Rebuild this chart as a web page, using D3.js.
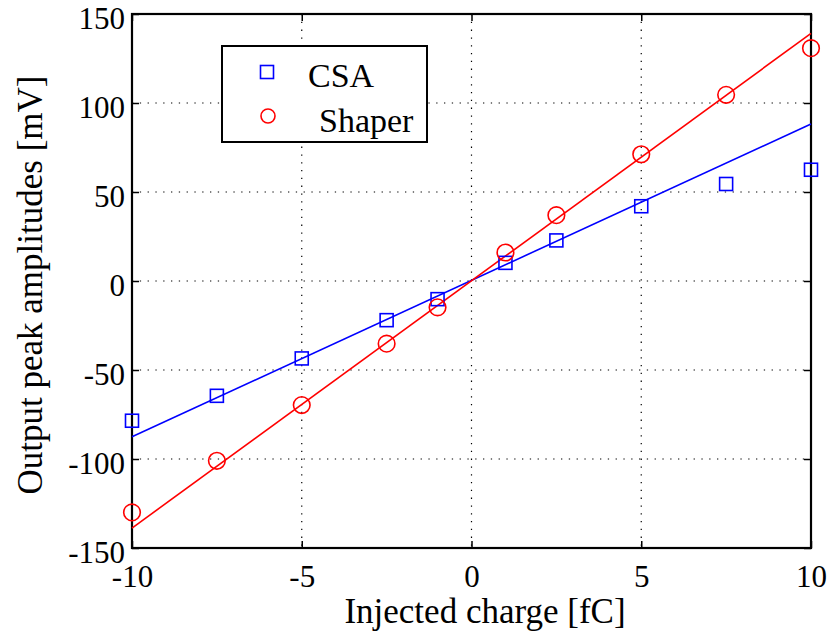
<!DOCTYPE html>
<html>
<head>
<meta charset="utf-8">
<script src="https://cdn.jsdelivr.net/npm/d3@7/dist/d3.min.js"></script>
<style>
  html, body { margin: 0; padding: 0; background: #fff; }
  svg { display: block; }
</style>
</head>
<body>
<svg id="chart" width="839" height="637"></svg>
<script>
// Injected charge (fC) and measured peak amplitudes (mV)
const charge = [-10, -7.5, -5, -2.5, -1, 1, 2.5, 5, 7.5, 10];
const csa    = [-78.5, -64.5, -43.5, -22, -10.2, 10.2, 22.8, 42, 54.5, 62.5];
const shaper = [-130, -101, -69.7, -35.2, -14.8, 16, 37, 71.2, 104.6, 130.8];

// Linear fits, evaluated at the ends of the charge range
const fitCharge = [-10, 10];
const csaFit    = [-87.5, 88.2];
const shaperFit = [-138.8, 139.1];

const xTicks = [-10, -5, 0, 5, 10];
const yTicks = [-150, -100, -50, 0, 50, 100, 150];

const FONT = "Liberation Serif";
const svg = d3.select("#chart");
const m = { left: 132, right: 811, top: 14, bottom: 548 };

const x = d3.scaleLinear().domain([-10, 10]).range([m.left, m.right]);
const y = d3.scaleLinear().domain([-150, 150]).range([m.bottom, m.top]);

function label(sel, size) {
  return sel.style("font-family", FONT).attr("font-family", FONT)
    .style("font-size", size + "px").attr("fill", "#000");
}

// dotted grid
const grid = svg.append("g").attr("stroke", "#000").attr("stroke-width", 1.2)
  .attr("stroke-dasharray", "1.3,6.5");
grid.selectAll("line.gx").data(xTicks).join("line").attr("class", "gx")
  .attr("x1", d => x(d)).attr("x2", d => x(d))
  .attr("y1", m.top).attr("y2", m.bottom);
grid.selectAll("line.gy").data(yTicks).join("line").attr("class", "gy")
  .attr("y1", d => y(d)).attr("y2", d => y(d))
  .attr("x1", m.left).attr("x2", m.right);

// axes with inward ticks on all four sides
const tickLen = 7;
const fmt = d => d < 0 ? "-" + Math.abs(d) : String(d);
const axB = svg.append("g").attr("transform", `translate(0,${m.bottom})`)
  .call(d3.axisBottom(x).tickValues(xTicks).tickSizeInner(-tickLen).tickSizeOuter(0).tickPadding(17).tickFormat(fmt));
const axT = svg.append("g").attr("transform", `translate(0,${m.top})`)
  .call(d3.axisTop(x).tickValues(xTicks).tickSizeInner(-tickLen).tickSizeOuter(0).tickFormat(""));
const axL = svg.append("g").attr("transform", `translate(${m.left},0)`)
  .call(d3.axisLeft(y).tickValues(yTicks).tickSizeInner(-tickLen).tickSizeOuter(0).tickPadding(7).tickFormat(fmt));
const axR = svg.append("g").attr("transform", `translate(${m.right},0)`)
  .call(d3.axisRight(y).tickValues(yTicks).tickSizeInner(-tickLen).tickSizeOuter(0).tickFormat(""));
[axB, axT, axL, axR].forEach(a => {
  a.attr("font-family", FONT);
  a.select(".domain").remove();
  a.selectAll(".tick line").attr("stroke", "#000").attr("stroke-width", 1.5);
  label(a.selectAll(".tick text"), 31);
});
axL.selectAll(".tick text").attr("dy", "0.47em");

// plot frame
svg.append("rect").attr("x", m.left).attr("y", m.top)
  .attr("width", m.right - m.left).attr("height", m.bottom - m.top)
  .attr("fill", "none").attr("stroke", "#000").attr("stroke-width", 2.2);

// fit lines
const line = d3.line().x(d => x(d[0])).y(d => y(d[1]));
svg.append("path").datum(d3.zip(fitCharge, csaFit)).attr("d", line)
  .attr("fill", "none").attr("stroke", "#0000ff").attr("stroke-width", 1.6);
svg.append("path").datum(d3.zip(fitCharge, shaperFit)).attr("d", line)
  .attr("fill", "none").attr("stroke", "#ff0000").attr("stroke-width", 1.6);

// measured points
const sq = 13;
svg.append("g").selectAll("rect").data(d3.zip(charge, csa)).join("rect")
  .attr("x", d => x(d[0]) - sq / 2).attr("y", d => y(d[1]) - sq / 2)
  .attr("width", sq).attr("height", sq)
  .attr("fill", "none").attr("stroke", "#0000ff").attr("stroke-width", 1.6);
svg.append("g").selectAll("circle").data(d3.zip(charge, shaper)).join("circle")
  .attr("cx", d => x(d[0])).attr("cy", d => y(d[1])).attr("r", 8.3)
  .attr("fill", "none").attr("stroke", "#ff0000").attr("stroke-width", 1.6);

// legend
const lg = svg.append("g");
lg.append("rect").attr("x", 222).attr("y", 46).attr("width", 205).attr("height", 96)
  .attr("fill", "#fff").attr("stroke", "#000").attr("stroke-width", 2);
lg.append("rect").attr("x", 267 - 6.5).attr("y", 72 - 6.5).attr("width", 13).attr("height", 13)
  .attr("fill", "none").attr("stroke", "#0000ff").attr("stroke-width", 1.6);
lg.append("circle").attr("cx", 268).attr("cy", 116).attr("r", 7)
  .attr("fill", "none").attr("stroke", "#ff0000").attr("stroke-width", 1.6);
label(lg.append("text").attr("x", 308).attr("y", 87), 34).text("CSA");
label(lg.append("text").attr("x", 319).attr("y", 132), 34).text("Shaper");

// axis titles
label(svg.append("text").attr("x", 485).attr("y", 623).attr("text-anchor", "middle"), 35)
  .text("Injected charge [fC]");
label(svg.append("text").attr("transform", "translate(42,285) rotate(-90)")
  .attr("text-anchor", "middle"), 35)
  .text("Output peak amplitudes [mV]");
</script>
</body>
</html>
